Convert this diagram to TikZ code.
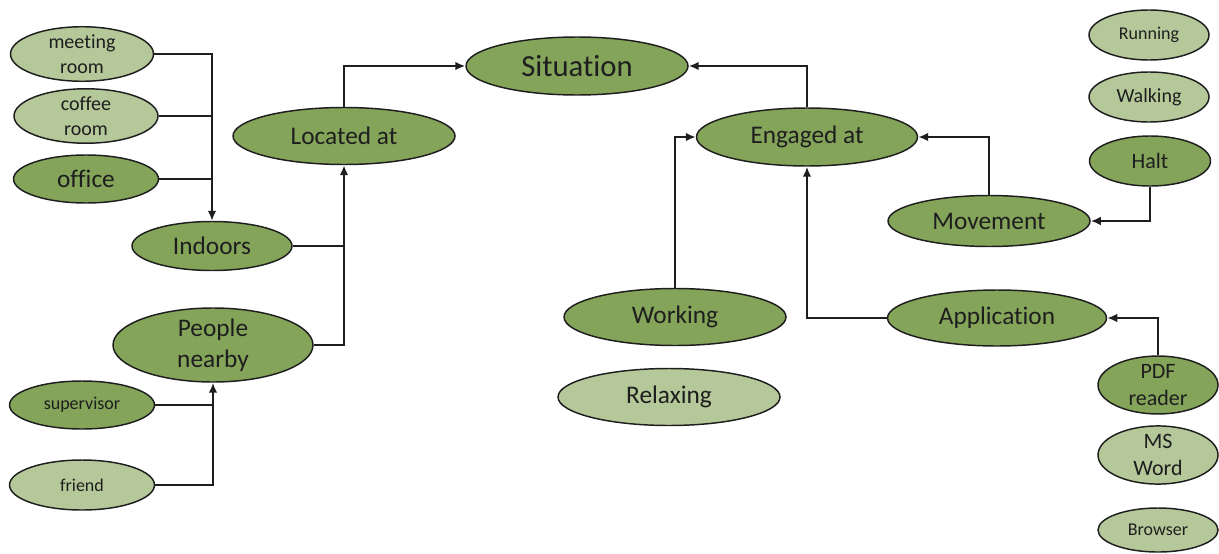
\documentclass[tikz,border=0pt]{standalone}
\usepackage{fontspec}
\setmainfont[Ligatures={NoCommon,NoRare,NoContextual,NoDiscretionary},
  Contextuals={NoAlternate}]{Carlito}
\usetikzlibrary{shapes.geometric,arrows.meta}
\definecolor{darkleaf}{RGB}{132,164,90}
\definecolor{lightleaf}{RGB}{181,200,154}
\definecolor{ink}{RGB}{30,30,30}
\begin{document}
\begin{tikzpicture}[x=0.75pt,y=-0.75pt,
  oval/.style 2 args={ellipse, draw=ink, line width=1.1pt, inner sep=0pt,
    minimum width=#1*0.75pt, minimum height=#2*0.75pt, text=ink, align=center},
  dark/.style={fill=darkleaf},
  light/.style={fill=lightleaf},
  big/.style={font=\fontsize{19}{23}\selectfont},
  huge/.style={font=\fontsize{23}{27}\selectfont},
  mid/.style={font=\fontsize{16.5}{20}\selectfont},
  small/.style={font=\fontsize{15}{18.5}\selectfont},
  tiny/.style={font=\fontsize{13.5}{16}\selectfont},
  link/.style={draw=ink, line width=1.9pt},
  arr/.style={link, -{Latex[length=7.5pt,width=6.5pt]}}]
\useasboundingbox (0,0) rectangle (1219,553);

% left branch: location
\node[oval={143}{48}, light, small] (mr) at (82,54) {meeting\\room};
\node[oval={144}{48}, light, small] (cr) at (86,116) {coffee\\room};
\node[oval={145}{48}, dark, big] (of) at (86,179) {office};
\node[oval={160}{49}, dark, big] (in) at (212,246) {Indoors};
\node[oval={222}{57}, dark, big] (loc) at (344,136) {Located at};
\node[oval={200}{63}, dark, big] (ppl) at (213,345) {People\\nearby};
\node[oval={145}{48}, dark, tiny] (sup) at (82,405) {supervisor};
\node[oval={145}{50}, light, tiny] (fr) at (82,485) {friend};

% root
\node[oval={222}{58}, dark, huge] (sit) at (577,66) {Situation};

% right branch: activity
\node[oval={221}{58}, dark, big] (eng) at (807,137) {Engaged at};
\node[oval={202}{51}, dark, big] (mov) at (989,221) {Movement};
\node[oval={120}{50}, light, tiny] (run) at (1149,35) {Running};
\node[oval={120}{50}, light, small] (walk) at (1149,97) {Walking};
\node[oval={121}{50}, dark, mid] (halt) at (1150,161) {Halt};
\node[oval={222}{57}, dark, big] (wk) at (675,317) {Working};
\node[oval={222}{57}, light, big] (rel) at (669,397) {Relaxing};
\node[oval={219}{56}, dark, big] (app) at (997,318) {Application};
\node[oval={120}{49}, dark, mid] (pdf) at (1158,385) {PDF\\reader};
\node[oval={120}{51}, light, mid] (msw) at (1158,455) {MS\\Word};
\node[oval={120}{44}, light, tiny] (brw) at (1158,530) {Browser};

% connectors into Indoors
\draw[arr] (mr.east) -| (in.north);
\draw[link] (cr.east) -- (cr.east -| in.north);
\draw[link] (of.east) -- (of.east -| in.north);

% connectors into Located at
\draw[arr] (ppl.east) -| (loc.south);
\draw[link] (in.east) -- (in.east -| loc.south);

% connectors into People nearby
\draw[arr] (fr.east) -| (ppl.south);
\draw[link] (sup.east) -- (sup.east -| ppl.south);

% connectors into Situation
\draw[arr] (loc.north) |- (sit.west);
\draw[arr] (eng.north) |- (sit.east);

% connectors into Engaged at
\draw[arr] (wk.north) |- (eng.west);
\draw[arr] (app.west) -| (eng.south);
\draw[arr] (mov.north) |- (eng.east);

% leaf connectors
\draw[arr] (halt.south) |- (mov.east);
\draw[arr] (pdf.north) |- (app.east);
\end{tikzpicture}
\end{document}
